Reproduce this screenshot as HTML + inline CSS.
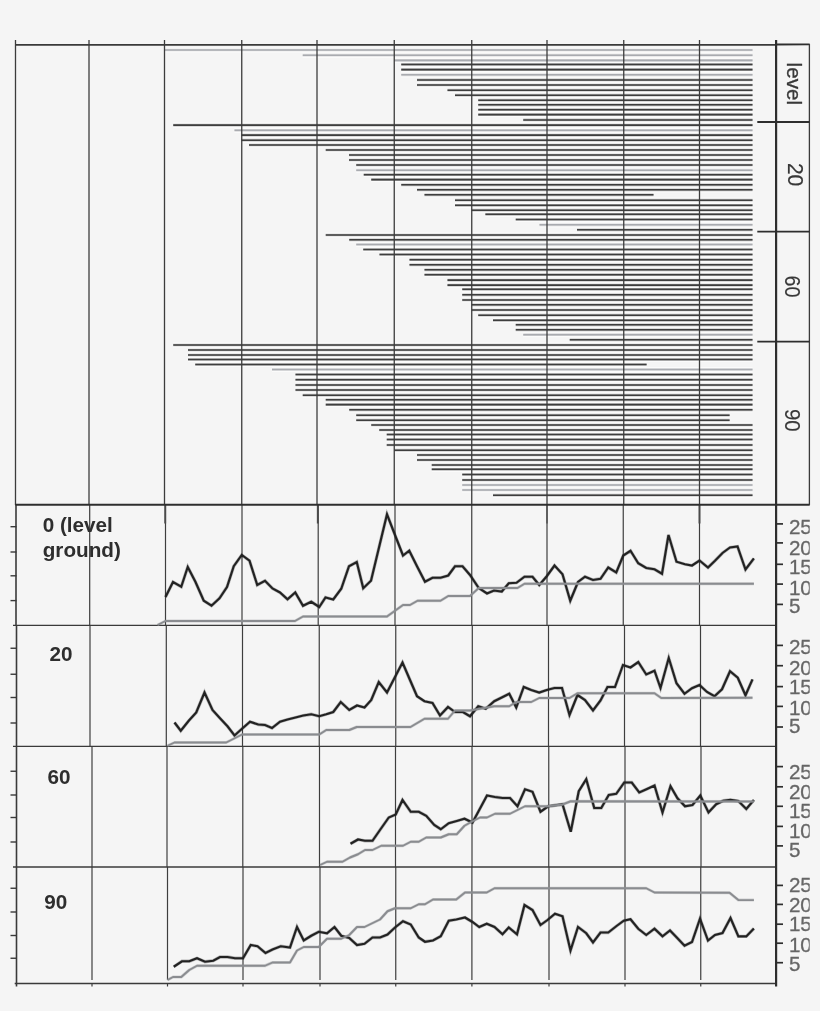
<!DOCTYPE html>
<html lang="en"><head><meta charset="utf-8"><title>Level / gradient chart</title>
<style>html,body{margin:0;padding:0;background:#f5f5f5}body{width:820px;height:1011px;overflow:hidden}svg{display:block}text{font-family:"Liberation Sans",Arial,sans-serif}.b{font-weight:bold;font-size:20.7px;fill:#2e2e2e}.r{font-size:20.6px;fill:#383838;stroke:#383838;stroke-width:.3px}.d{stroke-width:.15px}.a{font-size:20.6px;fill:#666;stroke:#666;stroke-width:.3px}</style></head><body>
<svg width="820" height="1011" viewBox="0 0 820 1011">
<defs><clipPath id="cr"><rect x="0" y="0" width="809.7" height="1011"/></clipPath></defs>
<rect width="820" height="1011" fill="#f5f5f5"/>
<g>
<defs><g id="bk">
<line x1="401.25" y1="64.4" x2="752.5" y2="64.4"/>
<line x1="401.25" y1="69.6" x2="752.5" y2="69.6"/>
<line x1="417" y1="79.9" x2="752.5" y2="79.9"/>
<line x1="417" y1="85" x2="752.5" y2="85"/>
<line x1="447.5" y1="90.2" x2="752.5" y2="90.2"/>
<line x1="455" y1="95.2" x2="752.5" y2="95.2"/>
<line x1="478.25" y1="100.2" x2="752.5" y2="100.2"/>
<line x1="478.25" y1="104.8" x2="752.5" y2="104.8"/>
<line x1="478.25" y1="109.7" x2="752.5" y2="109.7"/>
<line x1="478.25" y1="114.6" x2="752.5" y2="114.6"/>
<line x1="523.25" y1="119.9" x2="752.5" y2="119.9"/>
<line x1="173.25" y1="125.1" x2="752.5" y2="125.1"/>
<line x1="241.5" y1="135.1" x2="752.5" y2="135.1"/>
<line x1="241.5" y1="140.2" x2="752.5" y2="140.2"/>
<line x1="249" y1="145" x2="752.5" y2="145"/>
<line x1="325.75" y1="150" x2="752.5" y2="150"/>
<line x1="349" y1="155" x2="752.5" y2="155"/>
<line x1="349" y1="160" x2="752.5" y2="160"/>
<line x1="356.25" y1="165" x2="752.5" y2="165"/>
<line x1="363.75" y1="174.7" x2="752.5" y2="174.7"/>
<line x1="371.25" y1="179.6" x2="752.5" y2="179.6"/>
<line x1="401.25" y1="184.8" x2="752.5" y2="184.8"/>
<line x1="417" y1="189.8" x2="752.5" y2="189.8"/>
<line x1="424.5" y1="194.8" x2="653.5" y2="194.8"/>
<line x1="455" y1="200.2" x2="752.5" y2="200.2"/>
<line x1="455" y1="205.3" x2="752.5" y2="205.3"/>
<line x1="471.75" y1="210.2" x2="752.5" y2="210.2"/>
<line x1="485.4" y1="214.3" x2="752.5" y2="214.3"/>
<line x1="515.75" y1="219.5" x2="752.5" y2="219.5"/>
<line x1="577" y1="229.8" x2="752.5" y2="229.8"/>
<line x1="325.75" y1="235" x2="752.5" y2="235"/>
<line x1="349.25" y1="239.8" x2="752.5" y2="239.8"/>
<line x1="363.25" y1="249.5" x2="752.5" y2="249.5"/>
<line x1="379.5" y1="254.5" x2="752.5" y2="254.5"/>
<line x1="409.5" y1="259.7" x2="752.5" y2="259.7"/>
<line x1="409.5" y1="264.8" x2="752.5" y2="264.8"/>
<line x1="424.5" y1="269.8" x2="752.5" y2="269.8"/>
<line x1="424.5" y1="274.7" x2="752.5" y2="274.7"/>
<line x1="447.5" y1="280.1" x2="752.5" y2="280.1"/>
<line x1="447.5" y1="285.1" x2="752.5" y2="285.1"/>
<line x1="462.25" y1="289.3" x2="752.5" y2="289.3"/>
<line x1="462.25" y1="294.8" x2="752.5" y2="294.8"/>
<line x1="462.25" y1="300" x2="752.5" y2="300"/>
<line x1="471.75" y1="304.8" x2="752.5" y2="304.8"/>
<line x1="471.75" y1="310" x2="752.5" y2="310"/>
<line x1="478.25" y1="315.2" x2="752.5" y2="315.2"/>
<line x1="493" y1="320.3" x2="752.5" y2="320.3"/>
<line x1="515.75" y1="324.8" x2="752.5" y2="324.8"/>
<line x1="515.75" y1="329.8" x2="752.5" y2="329.8"/>
<line x1="569.75" y1="339.8" x2="752.5" y2="339.8"/>
<line x1="173.25" y1="345" x2="752.5" y2="345"/>
<line x1="188" y1="350" x2="752.5" y2="350"/>
<line x1="188" y1="355" x2="752.5" y2="355"/>
<line x1="188" y1="359.5" x2="752.5" y2="359.5"/>
<line x1="195.25" y1="364.5" x2="646.6" y2="364.5"/>
<line x1="295.5" y1="374.5" x2="752.5" y2="374.5"/>
<line x1="295.5" y1="379.7" x2="752.5" y2="379.7"/>
<line x1="295.5" y1="385" x2="752.5" y2="385"/>
<line x1="295.5" y1="390" x2="752.5" y2="390"/>
<line x1="302.75" y1="395.2" x2="752.5" y2="395.2"/>
<line x1="325.75" y1="399.8" x2="752.5" y2="399.8"/>
<line x1="325.75" y1="404.6" x2="752.5" y2="404.6"/>
<line x1="349.25" y1="409.8" x2="752.5" y2="409.8"/>
<line x1="356.25" y1="415.2" x2="729.6" y2="415.2"/>
<line x1="356.25" y1="420.2" x2="729.6" y2="420.2"/>
<line x1="371.25" y1="425" x2="752.5" y2="425"/>
<line x1="379.25" y1="430" x2="752.5" y2="430"/>
<line x1="386.75" y1="434.5" x2="752.5" y2="434.5"/>
<line x1="386.75" y1="439.5" x2="752.5" y2="439.5"/>
<line x1="386.75" y1="445" x2="752.5" y2="445"/>
<line x1="394.25" y1="450.2" x2="752.5" y2="450.2"/>
<line x1="417" y1="455" x2="752.5" y2="455"/>
<line x1="417" y1="460" x2="752.5" y2="460"/>
<line x1="431.75" y1="465" x2="752.5" y2="465"/>
<line x1="431.75" y1="469.3" x2="752.5" y2="469.3"/>
<line x1="462.25" y1="474.5" x2="752.5" y2="474.5"/>
<line x1="462.25" y1="480" x2="752.5" y2="480"/>
<line x1="493" y1="495.2" x2="752.5" y2="495.2"/>
</g>
<g id="bg">
<line x1="164.5" y1="50" x2="752.5" y2="50"/>
<line x1="302.75" y1="55.2" x2="752.5" y2="55.2"/>
<line x1="394.25" y1="60.4" x2="752.5" y2="60.4"/>
<line x1="401.25" y1="74.8" x2="752.5" y2="74.8"/>
<line x1="234.5" y1="130.3" x2="752.5" y2="130.3"/>
<line x1="356.25" y1="170.2" x2="752.5" y2="170.2"/>
<line x1="539.5" y1="224.8" x2="752.5" y2="224.8"/>
<line x1="356.25" y1="244.5" x2="752.5" y2="244.5"/>
<line x1="523.25" y1="334.7" x2="752.5" y2="334.7"/>
<line x1="272" y1="369.5" x2="752.5" y2="369.5"/>
<line x1="462.25" y1="485" x2="752.5" y2="485"/>
<line x1="462.25" y1="490" x2="752.5" y2="490"/>
</g></defs>
<use href="#bk" stroke="#fbfbfb" stroke-width="5.2"/><use href="#bg" stroke="#fbfbfb" stroke-width="5.2"/>
<use href="#bg" stroke="#a9abb0" stroke-width="2.7" stroke-opacity=".4"/><use href="#bg" stroke="#a9abb0" stroke-width="1.6"/>
<use href="#bk" stroke="#3e3e3e" stroke-width="2.7" stroke-opacity=".33"/><use href="#bk" stroke="#3e3e3e" stroke-width="1.55"/>
<g stroke="#3c3c3c" stroke-width="1.3">
<line x1="15.5" y1="40" x2="15.5" y2="505"/>
<line x1="89" y1="40" x2="89" y2="505"/>
<line x1="164.5" y1="40" x2="164.5" y2="505"/>
<line x1="241.75" y1="40" x2="241.75" y2="505"/>
<line x1="317" y1="40" x2="317" y2="505"/>
<line x1="394.25" y1="40" x2="394.25" y2="505"/>
<line x1="471.75" y1="40" x2="471.75" y2="505"/>
<line x1="547" y1="40" x2="547" y2="505"/>
<line x1="623.75" y1="40" x2="623.75" y2="505"/>
<line x1="699.5" y1="40" x2="699.5" y2="505"/>
</g>
<g stroke="#3e3e3e" stroke-width="1.2">
<line x1="16" y1="504.8" x2="16" y2="625.3" stroke="#3a3a3a" stroke-width="1.6"/>
<line x1="89.7" y1="504.8" x2="89.7" y2="625.3"/>
<line x1="165.5" y1="504.8" x2="165.5" y2="625.3"/>
<line x1="242" y1="504.8" x2="242" y2="625.3"/>
<line x1="318.2" y1="504.8" x2="318.2" y2="625.3"/>
<line x1="395" y1="504.8" x2="395" y2="625.3"/>
<line x1="471.75" y1="504.8" x2="471.75" y2="625.3"/>
<line x1="547" y1="504.8" x2="547" y2="625.3"/>
<line x1="623.25" y1="504.8" x2="623.25" y2="625.3"/>
<line x1="699.5" y1="504.8" x2="699.5" y2="625.3"/>
<line x1="16.5" y1="625.3" x2="16.5" y2="746.4" stroke="#3a3a3a" stroke-width="1.6"/>
<line x1="90" y1="625.3" x2="90" y2="746.4"/>
<line x1="166.3" y1="625.3" x2="166.3" y2="746.4"/>
<line x1="242.5" y1="625.3" x2="242.5" y2="746.4"/>
<line x1="319.25" y1="625.3" x2="319.25" y2="746.4"/>
<line x1="395.75" y1="625.3" x2="395.75" y2="746.4"/>
<line x1="472.3" y1="625.3" x2="472.3" y2="746.4"/>
<line x1="548.5" y1="625.3" x2="548.5" y2="746.4"/>
<line x1="624.5" y1="625.3" x2="624.5" y2="746.4"/>
<line x1="700.5" y1="625.3" x2="700.5" y2="746.4"/>
<line x1="16.5" y1="746.4" x2="16.5" y2="867" stroke="#3a3a3a" stroke-width="1.6"/>
<line x1="92" y1="746.4" x2="92" y2="867"/>
<line x1="167" y1="746.4" x2="167" y2="867"/>
<line x1="242.8" y1="746.4" x2="242.8" y2="867"/>
<line x1="319.5" y1="746.4" x2="319.5" y2="867"/>
<line x1="395.5" y1="746.4" x2="395.5" y2="867"/>
<line x1="472" y1="746.4" x2="472" y2="867"/>
<line x1="548.75" y1="746.4" x2="548.75" y2="867"/>
<line x1="625" y1="746.4" x2="625" y2="867"/>
<line x1="701" y1="746.4" x2="701" y2="867"/>
<line x1="16.5" y1="867" x2="16.5" y2="986.5" stroke="#3a3a3a" stroke-width="1.6"/>
<line x1="92" y1="867" x2="92" y2="980"/>
<line x1="92" y1="983.5" x2="92" y2="986.5"/>
<line x1="167.5" y1="867" x2="167.5" y2="980"/>
<line x1="167.5" y1="983.5" x2="167.5" y2="986.5"/>
<line x1="243" y1="867" x2="243" y2="980"/>
<line x1="243" y1="983.5" x2="243" y2="986.5"/>
<line x1="320" y1="867" x2="320" y2="980"/>
<line x1="320" y1="983.5" x2="320" y2="986.5"/>
<line x1="395.75" y1="867" x2="395.75" y2="980"/>
<line x1="395.75" y1="983.5" x2="395.75" y2="986.5"/>
<line x1="471.9" y1="867" x2="471.9" y2="980"/>
<line x1="471.9" y1="983.5" x2="471.9" y2="986.5"/>
<line x1="549" y1="867" x2="549" y2="980"/>
<line x1="549" y1="983.5" x2="549" y2="986.5"/>
<line x1="625" y1="867" x2="625" y2="980"/>
<line x1="625" y1="983.5" x2="625" y2="986.5"/>
<line x1="700.75" y1="867" x2="700.75" y2="980"/>
<line x1="700.75" y1="983.5" x2="700.75" y2="986.5"/>
</g>
<g stroke="#4a4a4a" stroke-width="1.9">
<line x1="165.2" y1="505" x2="165.2" y2="523.5"/>
<line x1="317.8" y1="505" x2="317.8" y2="523.5"/>
<line x1="699.5" y1="505" x2="699.5" y2="523.5"/>
<line x1="547" y1="505" x2="547" y2="523.5" stroke-width="1.3"/>
</g>
<g stroke="#3a3a3a">
<line x1="15" y1="44.9" x2="777" y2="44.9" stroke-width="1.6"/>
<line x1="776" y1="44.5" x2="809.7" y2="44.4" stroke-width="1.9" stroke="#2e2e2e"/>
<line x1="15.4" y1="504.8" x2="809.7" y2="504.8" stroke-width="2.1" stroke="#2e2e2e"/>
<line x1="13" y1="625.3" x2="777" y2="625.3" stroke-width="1.35"/>
<line x1="13" y1="746.4" x2="777" y2="746.4" stroke-width="1.35"/>
<line x1="13" y1="867" x2="777" y2="867" stroke-width="1.35"/>
<line x1="14.7" y1="983.5" x2="777" y2="983.5" stroke-width="1.35"/>
<line x1="776.1" y1="40" x2="776.1" y2="986.5" stroke-width="2.2" stroke="#2e2e2e"/>
<line x1="809.4" y1="44" x2="809.4" y2="505" stroke-width="1.3"/>
<line x1="757.3" y1="122" x2="809.5" y2="122" stroke-width="1.9" stroke="#2e2e2e"/>
<line x1="757.3" y1="231.6" x2="809.5" y2="231.6" stroke-width="1.9" stroke="#2e2e2e"/>
<line x1="757.3" y1="341.6" x2="809.5" y2="341.6" stroke-width="1.9" stroke="#2e2e2e"/>
<line x1="10.5" y1="526.7" x2="16.5" y2="526.7" stroke-width="1.4"/>
<line x1="10.5" y1="552" x2="16.5" y2="552" stroke-width="1.4"/>
<line x1="10.5" y1="575.8" x2="16.5" y2="575.8" stroke-width="1.4"/>
<line x1="10.5" y1="600.6" x2="16.5" y2="600.6" stroke-width="1.4"/>
<line x1="776.5" y1="523.9" x2="783" y2="523.9" stroke-width="1.7" stroke="#2e2e2e"/>
<line x1="776.5" y1="542.9" x2="783" y2="542.9" stroke-width="1.7" stroke="#2e2e2e"/>
<line x1="776.5" y1="564.3" x2="783" y2="564.3" stroke-width="1.7" stroke="#2e2e2e"/>
<line x1="776.5" y1="584.1" x2="783" y2="584.1" stroke-width="1.7" stroke="#2e2e2e"/>
<line x1="776.5" y1="604.4" x2="783" y2="604.4" stroke-width="1.7" stroke="#2e2e2e"/>
<line x1="10.5" y1="648.25" x2="16.5" y2="648.25" stroke-width="1.4"/>
<line x1="10.5" y1="674.25" x2="16.5" y2="674.25" stroke-width="1.4"/>
<line x1="10.5" y1="697.5" x2="16.5" y2="697.5" stroke-width="1.4"/>
<line x1="10.5" y1="723" x2="16.5" y2="723" stroke-width="1.4"/>
<line x1="776.5" y1="645.4" x2="783" y2="645.4" stroke-width="1.7" stroke="#2e2e2e"/>
<line x1="776.5" y1="665.7" x2="783" y2="665.7" stroke-width="1.7" stroke="#2e2e2e"/>
<line x1="776.5" y1="686.6" x2="783" y2="686.6" stroke-width="1.7" stroke="#2e2e2e"/>
<line x1="776.5" y1="706.4" x2="783" y2="706.4" stroke-width="1.7" stroke="#2e2e2e"/>
<line x1="776.5" y1="727" x2="783" y2="727" stroke-width="1.7" stroke="#2e2e2e"/>
<line x1="10.5" y1="771.25" x2="16.5" y2="771.25" stroke-width="1.4"/>
<line x1="10.5" y1="795" x2="16.5" y2="795" stroke-width="1.4"/>
<line x1="10.5" y1="817.5" x2="16.5" y2="817.5" stroke-width="1.4"/>
<line x1="10.5" y1="842" x2="16.5" y2="842" stroke-width="1.4"/>
<line x1="776.5" y1="766.6" x2="783" y2="766.6" stroke-width="1.7" stroke="#2e2e2e"/>
<line x1="776.5" y1="786.8" x2="783" y2="786.8" stroke-width="1.7" stroke="#2e2e2e"/>
<line x1="776.5" y1="806.3" x2="783" y2="806.3" stroke-width="1.7" stroke="#2e2e2e"/>
<line x1="776.5" y1="826.4" x2="783" y2="826.4" stroke-width="1.7" stroke="#2e2e2e"/>
<line x1="776.5" y1="845.9" x2="783" y2="845.9" stroke-width="1.7" stroke="#2e2e2e"/>
<line x1="10.5" y1="888.25" x2="16.5" y2="888.25" stroke-width="1.4"/>
<line x1="10.5" y1="912" x2="16.5" y2="912" stroke-width="1.4"/>
<line x1="10.5" y1="935.5" x2="16.5" y2="935.5" stroke-width="1.4"/>
<line x1="10.5" y1="958.25" x2="16.5" y2="958.25" stroke-width="1.4"/>
<line x1="776.5" y1="885.4" x2="783" y2="885.4" stroke-width="1.7" stroke="#2e2e2e"/>
<line x1="776.5" y1="904.4" x2="783" y2="904.4" stroke-width="1.7" stroke="#2e2e2e"/>
<line x1="776.5" y1="924.2" x2="783" y2="924.2" stroke-width="1.7" stroke="#2e2e2e"/>
<line x1="776.5" y1="943.2" x2="783" y2="943.2" stroke-width="1.7" stroke="#2e2e2e"/>
<line x1="776.5" y1="962.7" x2="783" y2="962.7" stroke-width="1.7" stroke="#2e2e2e"/>
</g>
<defs>
<polyline id="sb1" points="165.5,597 173,582 181.25,586.75 187.75,567 195.5,582 203.75,600.75 211.5,605.75 219.5,598.25 227,587 233.75,566.25 241.75,555 249.5,560.75 257.25,585 265,580.75 272.5,588.5 280,592.5 287.5,599.25 295.25,592.5 303,605.75 311.25,601.75 319.25,607 325.5,597.5 333.25,599.5 341.25,588.75 349,566.25 356.75,562 363.25,588.25 371,580.75 379,547.5 387,514.25 395,535 403,555.5 409.25,550.75 417,566.25 425,581.75 432.5,577.75 440.5,577.75 448.25,575.5 455,566.25 462.5,566.25 470,575 478.75,588 487,593.5 494,590.5 501.75,591.5 508.75,583.25 516.5,582.75 524.5,576.75 532.5,576.75 539.25,585 546.75,576.25 554.5,565.5 562.5,574.25 570.25,600.75 578,582 585,576.75 593,580 600.5,578.75 608.25,567.5 616.25,572.5 623.25,555.5 630.5,550.75 638.25,563.25 646.25,568 654.5,569.25 662,573.75 668.5,535 676.5,561.75 685,564.25 692,565.5 699.5,560.5 708,567.5 715,560.75 722.5,553 730,547.5 737.5,546.5 745.5,569.5 753.9,558.4"/>
<polyline id="sg1" points="157.5,625 165.5,621 295,621 303,616.5 387,616.5 403,605 410,605 417.5,600.75 440.5,600.75 448.25,596 470,596 478.75,588 517.5,588 524.5,583.75 753.9,583.75"/>
<polyline id="sb2" points="174.5,722.5 180.75,730.75 188.75,720.75 196.25,712.5 204.5,692.5 212.5,710 220,718.25 227.5,726.25 234.5,735.5 242,728.75 250,721.75 258.25,724.5 265,725 272,728 280,721.75 287.5,719.5 295.5,717.5 303.25,715.5 311.25,714.25 319.25,716.25 326.25,714.25 333.25,712 340.75,702 349.25,710 357,705.5 364.5,707.5 371.25,700 378.75,682 387,692.5 394.75,677.5 402.5,662.5 410,680 417,696.25 424.5,701.25 432.5,703 440,715.5 448,707 455,712 462.5,711.75 470,716.25 478.25,706.25 485.75,708.75 494.25,701.25 501.75,697.5 509.25,693.75 516.25,707.5 523.75,687 531.25,690 539.25,692.5 546.75,690 554.5,688 562,688 569.5,715 577.5,695 585,700 593,710.5 600.5,700.5 607.5,687 615,687 623,665 630.5,667.5 638.25,662 646.25,674.5 654.5,670.75 660.5,688 668.75,658 676.5,683.25 684.5,693.75 692,688.25 699.5,685 707,692 714.5,696.25 722,689.25 730,671.25 737.75,677.7 745.5,695.3 752.5,679.4"/>
<polyline id="sg2" points="167.5,745.75 174.5,742.5 226.25,742.5 242,734.5 319.25,734.5 326.25,730 349.25,730 356.75,727 410.5,727 424.5,718.75 448,718.75 455,710.5 470,710.5 494.25,706.25 509.25,706.25 516.25,702 531.25,702 539.25,698 569.5,698 577.5,693.25 654.5,693.25 661.25,698 752.5,697.8"/>
<polyline id="sb3" points="350.5,843.75 358,839.5 365,840.75 372.5,840.75 380.5,829.25 388.75,817.5 395.75,814.5 402.5,800 410.75,811.75 418.75,811.75 426.25,815.75 434.25,825 440.75,829.25 448.75,823.25 456.75,821 464.5,818.75 472.5,822.5 479.75,809 487,795.5 495,797 502.5,798 510,798 517.5,806.25 525,789.25 532.5,791.75 540.5,811.75 548.25,806.25 555.5,805.25 562.5,804.25 570.75,831.75 578.75,791.25 586.25,779.25 594.25,808 601.25,808 608.75,795 616.25,793.75 624.25,782.5 631.75,782.5 639.25,792.5 647,789 654.5,785.5 662.5,812.5 670.5,786.25 677.5,798.25 685,806.25 692.5,805 700.3,795.5 708.5,812.4 716.2,804.2 723.3,800.7 730.4,799.8 738.3,801 746.3,809 753.9,800"/>
<polyline id="sg3" points="320,865 327,861.75 342.5,861.75 350,857.5 358,854.25 365,850 372.5,850 381.25,845.75 403,845.75 410.75,841.75 418.75,841.75 426.25,837.5 440.75,837.5 448.75,834.25 456.75,834.25 464.5,825.75 472.5,821.25 480,817.5 487,817.5 495,813.75 510,813.75 525,806.25 547.5,806.25 562.5,804.5 570.75,801.25 753.9,801.5"/>
<polyline id="sb4" points="173.75,966.75 182,961.25 189.25,961.25 197,958.25 205,961.75 213.25,960.75 220,957 227.5,957 235,958.25 243,958.25 250.75,945 257.5,946.25 265.5,953 272.5,949.5 280.75,946.25 290,947.5 297,927 303.75,940.5 311.25,935.75 318.75,931.75 327,933.25 334.5,927 341.25,935.75 349.25,938 357,945 364.5,943.75 372.5,937.5 380,937.5 387.5,934.5 395,927.5 403,921.25 410.75,924.5 418.75,937.5 425,941.75 433,940.5 440.75,936.25 448.75,920.75 456.25,919.5 465,917.5 472.5,922 479.25,927 486.75,923.75 494.5,927 502.5,934.25 508.75,927.5 517,934.25 524.5,905 532.5,910 540.5,925 547.5,920 555,913.75 562.5,916.25 570.5,950.5 578,927 586.25,933.25 593,942.5 600.5,932.5 608.25,932.5 616.25,926.25 623.75,920.75 630.5,919.25 638.25,928.75 646.25,935 654.5,928.75 662.5,936.25 670,930.5 677.25,938 684.5,945.75 692,942 700,918.75 708,940.5 715,935 722.5,933 730.5,918 738.4,936.4 746.3,936.4 753.9,928.5"/>
<polyline id="sg4" points="167.5,980 173,977 181.25,977 189.25,970 197,965.75 265,965.75 272.5,962.5 290,962.5 297,950.5 303.75,947 318.75,947 327,938.75 341.25,938.75 349.25,935 357,927 364.5,927 380,919.5 387.5,911.25 395,908.25 410.75,908.25 418.75,904.25 425,904.25 433,899.5 456.25,899.5 465,892.5 486.75,892.5 494.5,888.25 646.25,888.25 654.5,892.5 729.6,892.8 738.4,900.1 753.9,900.1"/>
</defs>
<g fill="none" stroke="#222" stroke-linejoin="miter"><use href="#sb1" stroke-width="3.3" stroke-opacity=".3"/><use href="#sb1" stroke-width="2.15"/></g>
<g fill="none" stroke="#8a8c90" stroke-linejoin="round"><use href="#sg1" stroke-width="3.0" stroke-opacity=".35"/><use href="#sg1" stroke-width="1.9"/></g>
<g fill="none" stroke="#222" stroke-linejoin="miter"><use href="#sb2" stroke-width="3.3" stroke-opacity=".3"/><use href="#sb2" stroke-width="2.15"/></g>
<g fill="none" stroke="#8a8c90" stroke-linejoin="round"><use href="#sg2" stroke-width="3.0" stroke-opacity=".35"/><use href="#sg2" stroke-width="1.9"/></g>
<g fill="none" stroke="#222" stroke-linejoin="miter"><use href="#sb3" stroke-width="3.3" stroke-opacity=".3"/><use href="#sb3" stroke-width="2.15"/></g>
<g fill="none" stroke="#8a8c90" stroke-linejoin="round"><use href="#sg3" stroke-width="3.0" stroke-opacity=".35"/><use href="#sg3" stroke-width="1.9"/></g>
<g fill="none" stroke="#222" stroke-linejoin="miter"><use href="#sb4" stroke-width="3.3" stroke-opacity=".3"/><use href="#sb4" stroke-width="2.15"/></g>
<g fill="none" stroke="#8a8c90" stroke-linejoin="round"><use href="#sg4" stroke-width="3.0" stroke-opacity=".35"/><use href="#sg4" stroke-width="1.9"/></g>
<text class="b" x="42.7" y="532.2">0 (level</text>
<text class="b" x="42.7" y="556.6">ground)</text>
<text class="b" x="49.4" y="660.8">20</text>
<text class="b" x="47.4" y="783.8">60</text>
<text class="b" x="44.2" y="908.8">90</text>
<text class="r" transform="translate(787 62.6) rotate(90)">level</text>
<text class="r d" transform="translate(788 162.9) rotate(90) scale(1.02 1.10)">20</text>
<text class="r d" transform="translate(785.2 275.4) rotate(90) scale(0.96 1.10)">60</text>
<text class="r d" transform="translate(785.2 408.9) rotate(90) scale(0.99 1.10)">90</text>
<g clip-path="url(#cr)">
<text class="a" x="788.9" y="534.1">25</text>
<text class="a" x="788.9" y="554.6">20</text>
<text class="a" x="788.9" y="574.1">15</text>
<text class="a" x="788.9" y="594.6">10</text>
<text class="a" x="788.9" y="612.7">5</text>
<text class="a" x="788.9" y="654.1">25</text>
<text class="a" x="788.9" y="674.6">20</text>
<text class="a" x="788.9" y="694.1">15</text>
<text class="a" x="788.9" y="714.6">10</text>
<text class="a" x="788.9" y="732.7">5</text>
<text class="a" x="788.9" y="778.5">25</text>
<text class="a" x="788.9" y="798.6">20</text>
<text class="a" x="788.9" y="817.9">15</text>
<text class="a" x="788.9" y="838">10</text>
<text class="a" x="788.9" y="857.1">5</text>
<text class="a" x="788.9" y="891.7">25</text>
<text class="a" x="788.9" y="911.8">20</text>
<text class="a" x="788.9" y="931.4">15</text>
<text class="a" x="788.9" y="951.5">10</text>
<text class="a" x="788.9" y="970.5">5</text>
</g>
</g>
</svg></body></html>
